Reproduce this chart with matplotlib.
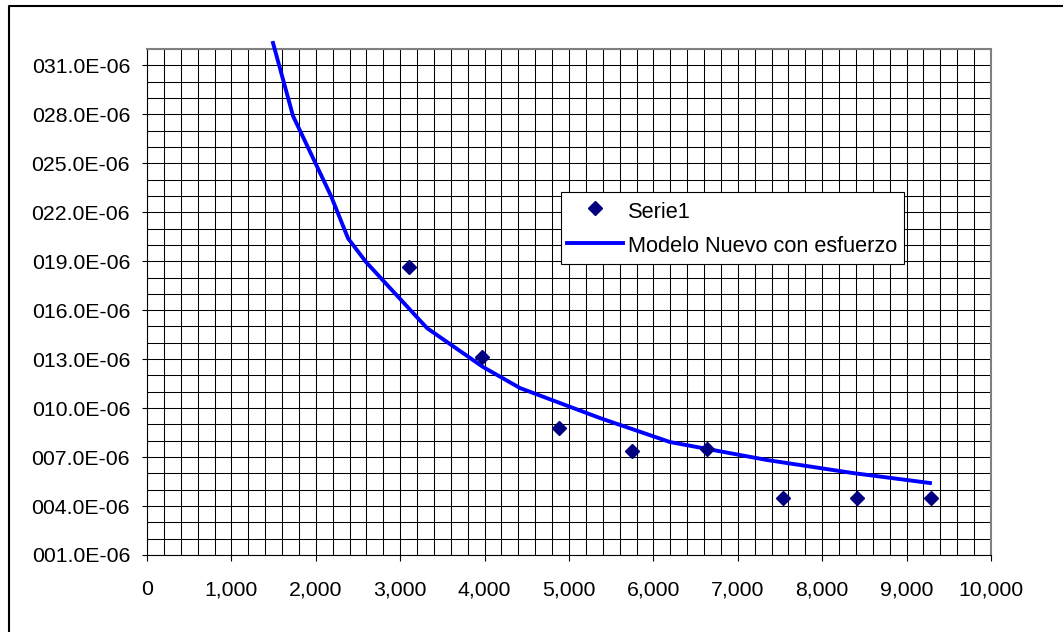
import matplotlib
matplotlib.use("Agg")
import matplotlib.pyplot as plt
from matplotlib.ticker import MultipleLocator, FuncFormatter
from matplotlib.lines import Line2D

plt.rcParams['font.family'] = ['Liberation Sans', 'DejaVu Sans']

# Measured series (Serie1)
serie_x = [3104, 3969, 4882, 5746, 6635, 7532, 8409, 9285]
serie_y = [18.65e-6, 13.13e-6, 8.78e-6, 7.37e-6, 7.50e-6, 4.49e-6, 4.49e-6, 4.49e-6]

# Model curve (Modelo Nuevo con esfuerzo)
model_x = [1493, 1730, 2180, 2382, 2595, 3318, 3981, 4419, 5367, 6197, 7346, 8365, 9277]
model_y = [32.37e-6, 27.9e-6, 23.0e-6, 20.4e-6, 18.95e-6, 14.9e-6, 12.52e-6, 11.23e-6,
           9.39e-6, 7.92e-6, 6.82e-6, 6.02e-6, 5.41e-6]

labels = ["Serie1", "Modelo Nuevo con esfuerzo"]

W, H = 1063, 632
fig = plt.figure(figsize=(W / 100, H / 100), dpi=100)
ax = fig.add_axes([147 / W, 1 - 555 / H, (991 - 147) / W, (555 - 49) / H])

ax.set_xlim(0, 10000)
ax.set_ylim(1e-6, 32e-6)

ax.xaxis.set_major_locator(MultipleLocator(1000))
ax.xaxis.set_minor_locator(MultipleLocator(200))
ax.yaxis.set_major_locator(MultipleLocator(3e-6, offset=1e-6))
ax.yaxis.set_minor_locator(MultipleLocator(1e-6))

ax.xaxis.set_major_formatter(FuncFormatter(lambda v, p: f"{int(round(v)):,}"))
ax.yaxis.set_major_formatter(FuncFormatter(lambda v, p: f"{v * 1e6:05.1f}E-06"))

ax.grid(which='both', color='#000000', linewidth=0.75)
ax.set_axisbelow(True)

ax.tick_params(axis='both', which='major', direction='out', width=0.8,
               labelsize=15.3, colors='black')
ax.tick_params(axis='y', which='major', length=3.5, pad=8.7)
ax.tick_params(axis='x', which='major', length=4.5, pad=13.5)
ax.tick_params(axis='both', which='minor', length=0)

for s in ['top', 'right']:
    ax.spines[s].set_color('#808080')
    ax.spines[s].set_linewidth(1.5)
for s in ['left', 'bottom']:
    ax.spines[s].set_color('black')
    ax.spines[s].set_linewidth(0.8)

ax.plot(serie_x, serie_y, linestyle='none', marker='D', markersize=6.9,
        color='#000080', label=labels[0], zorder=4)
ax.plot(model_x, model_y, color='#0000FF', linewidth=2.8, label=labels[1],
        clip_on=False, zorder=3)

leg = ax.legend(loc='upper left', bbox_to_anchor=(560.7 / W, 1 - 192 / H),
                bbox_transform=fig.transFigure, borderaxespad=0,
                fontsize=15.7, frameon=True, fancybox=False, shadow=False,
                framealpha=1, edgecolor='black', handlelength=2.57,
                handleheight=1.33, handletextpad=0.23, borderpad=0.3,
                labelspacing=0.46)
leg.get_frame().set_linewidth(0.8)

# outer chart border (left and top visible)
fig.add_artist(Line2D([9 / W, 9 / W, 1], [0, 1 - 6 / H, 1 - 6 / H],
                      transform=fig.transFigure, color='black', linewidth=1.5))

fig.savefig("out.png", dpi=100)
